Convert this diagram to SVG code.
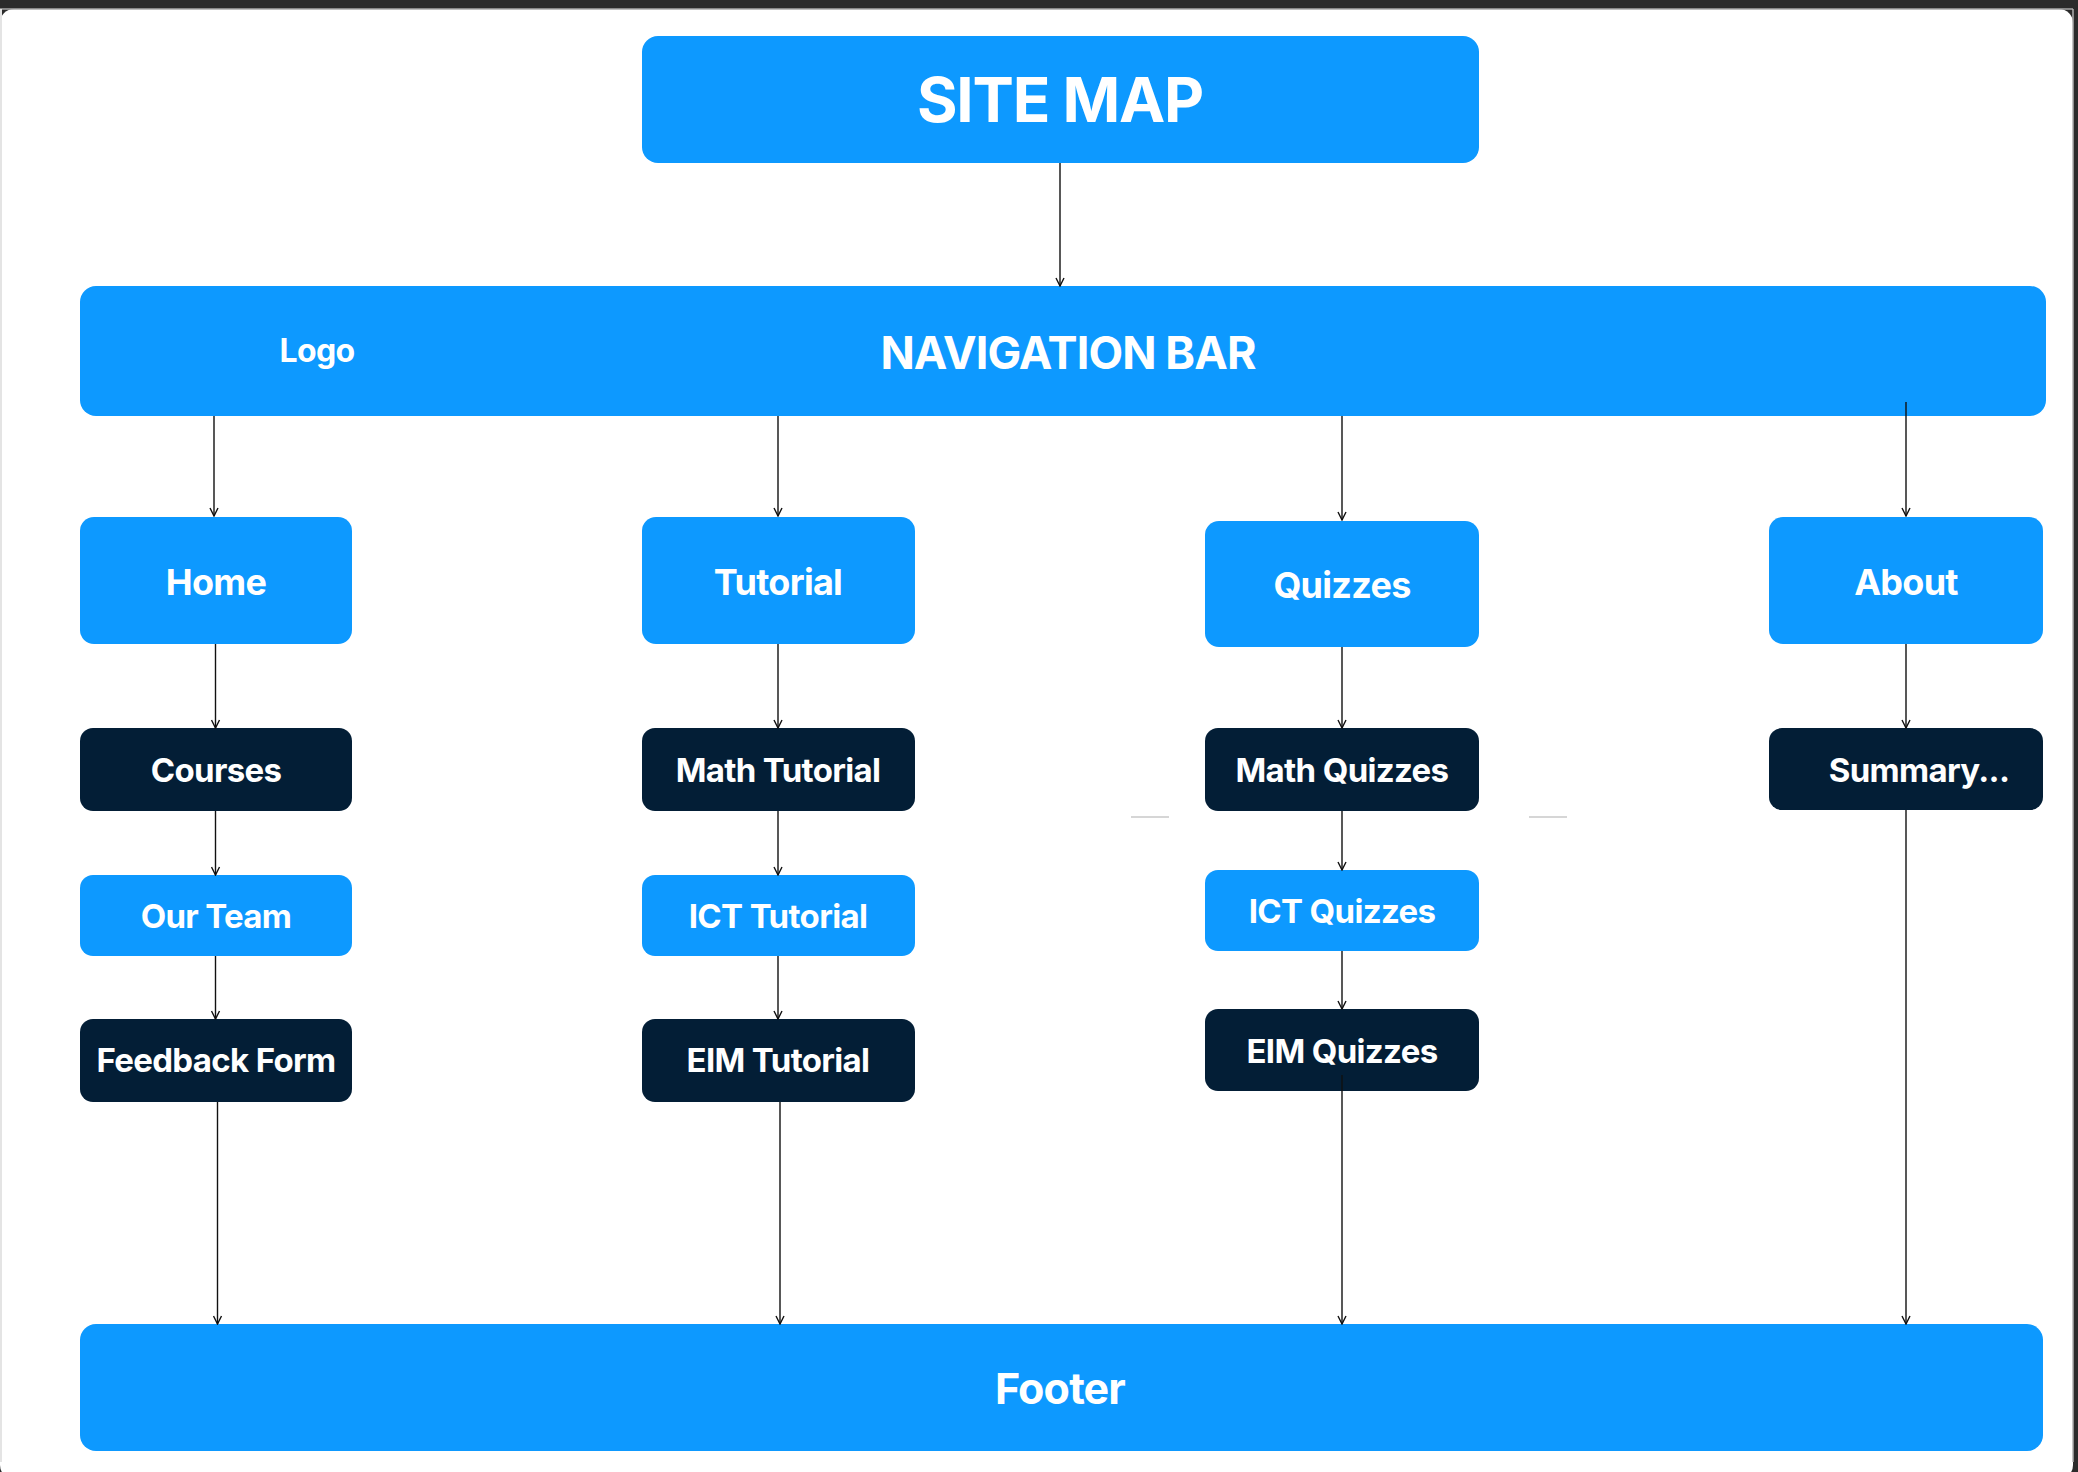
<svg xmlns="http://www.w3.org/2000/svg" width="2078" height="1472" viewBox="0 0 2078 1472">
<defs>
<style>
.blue{fill:#0d99ff}
.dark{fill:#031e36}
.t{font-family:Inter,"Liberation Sans",Arial,sans-serif;font-weight:700;fill:#ffffff;text-anchor:middle;letter-spacing:-0.02em}
.big{font-size:62px}
.nav{font-size:45px}
.top{font-size:36px}
.sub{font-size:33px}
.logo{font-size:32px}
.foot{font-size:43px}
.c line{stroke:#111;stroke-width:1.4;fill:none;marker-end:url(#ah)}
</style>
<marker id="ah" viewBox="0 0 10 10" refX="9" refY="5" markerWidth="10" markerHeight="10" markerUnits="userSpaceOnUse" orient="auto">
<path d="M1,1 L9,5 L1,9" fill="none" stroke="#111" stroke-width="1.4"/>
</marker>
</defs>
<g id="frame">
<rect x="0" y="0" width="2078" height="1472" fill="#2b2b2b"/>
<rect x="0" y="9" width="2073" height="1470" rx="14" fill="#ffffff"/>
<line x1="0" y1="9" x2="2073" y2="9" stroke="#a8a8a8" stroke-width="1.5"/>
<line x1="2073" y1="9" x2="2073" y2="1462" stroke="#b0b0b0" stroke-width="1.5"/>
<line x1="1" y1="9" x2="1" y2="1462" stroke="#e4e4e4" stroke-width="2"/>
<line x1="1131" y1="817" x2="1169" y2="817" stroke="#d6d6d6" stroke-width="2"/>
<line x1="1529" y1="817" x2="1567" y2="817" stroke="#d6d6d6" stroke-width="2"/>
</g>
<g id="sitemap"><rect class="blue" x="642" y="36" width="837" height="127" rx="16"/><text class="t big" x="1060" y="122">SITE MAP</text></g>
<g id="navbar"><rect class="blue" x="80" y="286" width="1966" height="130" rx="16"/><text class="t nav" x="1068" y="369">NAVIGATION BAR</text><text class="t logo" x="317" y="362">Logo</text></g>
<g id="home"><rect class="blue" x="80" y="517" width="272" height="127" rx="14"/><text class="t top" x="216" y="595">Home</text></g>
<g id="tutorial"><rect class="blue" x="642" y="517" width="273" height="127" rx="14"/><text class="t top" x="778" y="595">Tutorial</text></g>
<g id="quizzes"><rect class="blue" x="1205" y="521" width="274" height="126" rx="14"/><text class="t top" x="1342" y="598">Quizzes</text></g>
<g id="about"><rect class="blue" x="1769" y="517" width="274" height="127" rx="14"/><text class="t top" x="1906" y="595">About</text></g>
<g id="courses"><rect class="dark" x="80" y="728" width="272" height="83" rx="13"/><text class="t sub" x="216" y="782">Courses</text></g>
<g id="mathtutorial"><rect class="dark" x="642" y="728" width="273" height="83" rx="13"/><text class="t sub" x="778" y="782">Math Tutorial</text></g>
<g id="mathquizzes"><rect class="dark" x="1205" y="728" width="274" height="83" rx="13"/><text class="t sub" x="1342" y="782">Math Quizzes</text></g>
<g id="summary"><rect class="dark" x="1769" y="728" width="274" height="82" rx="13"/><text class="t sub" x="1919" y="782">Summary...</text></g>
<g id="ourteam"><rect class="blue" x="80" y="875" width="272" height="81" rx="13"/><text class="t sub" x="216" y="928">Our Team</text></g>
<g id="icttutorial"><rect class="blue" x="642" y="875" width="273" height="81" rx="13"/><text class="t sub" x="778" y="928">ICT Tutorial</text></g>
<g id="ictquizzes"><rect class="blue" x="1205" y="870" width="274" height="81" rx="13"/><text class="t sub" x="1342" y="923">ICT Quizzes</text></g>
<g id="feedback"><rect class="dark" x="80" y="1019" width="272" height="83" rx="13"/><text class="t sub" x="216" y="1072">Feedback Form</text></g>
<g id="eimtutorial"><rect class="dark" x="642" y="1019" width="273" height="83" rx="13"/><text class="t sub" x="778" y="1072">EIM Tutorial</text></g>
<g id="eimquizzes"><rect class="dark" x="1205" y="1009" width="274" height="82" rx="13"/><text class="t sub" x="1342" y="1063">EIM Quizzes</text></g>
<g id="footer"><rect class="blue" x="80" y="1324" width="1963" height="127" rx="16"/><text class="t foot" x="1060" y="1404">Footer</text></g>
<g id="connectors" class="c">
<line x1="1060" y1="163" x2="1060" y2="286"/>
<line x1="214" y1="416" x2="214" y2="516"/>
<line x1="778" y1="416" x2="778" y2="516"/>
<line x1="1342" y1="416" x2="1342" y2="520"/>
<line x1="1906" y1="402" x2="1906" y2="516"/>
<line x1="215.5" y1="644" x2="215.5" y2="728"/>
<line x1="215.5" y1="811" x2="215.5" y2="875"/>
<line x1="215.5" y1="956" x2="215.5" y2="1019"/>
<line x1="217.5" y1="1102" x2="217.5" y2="1324"/>
<line x1="778" y1="644" x2="778" y2="728"/>
<line x1="778" y1="811" x2="778" y2="875"/>
<line x1="778" y1="956" x2="778" y2="1019"/>
<line x1="780" y1="1102" x2="780" y2="1324"/>
<line x1="1342" y1="647" x2="1342" y2="728"/>
<line x1="1342" y1="811" x2="1342" y2="870"/>
<line x1="1342" y1="951" x2="1342" y2="1009"/>
<line x1="1342" y1="1075" x2="1342" y2="1324"/>
<line x1="1906" y1="644" x2="1906" y2="728"/>
<line x1="1906" y1="810" x2="1906" y2="1324"/>
</g>
</svg>
